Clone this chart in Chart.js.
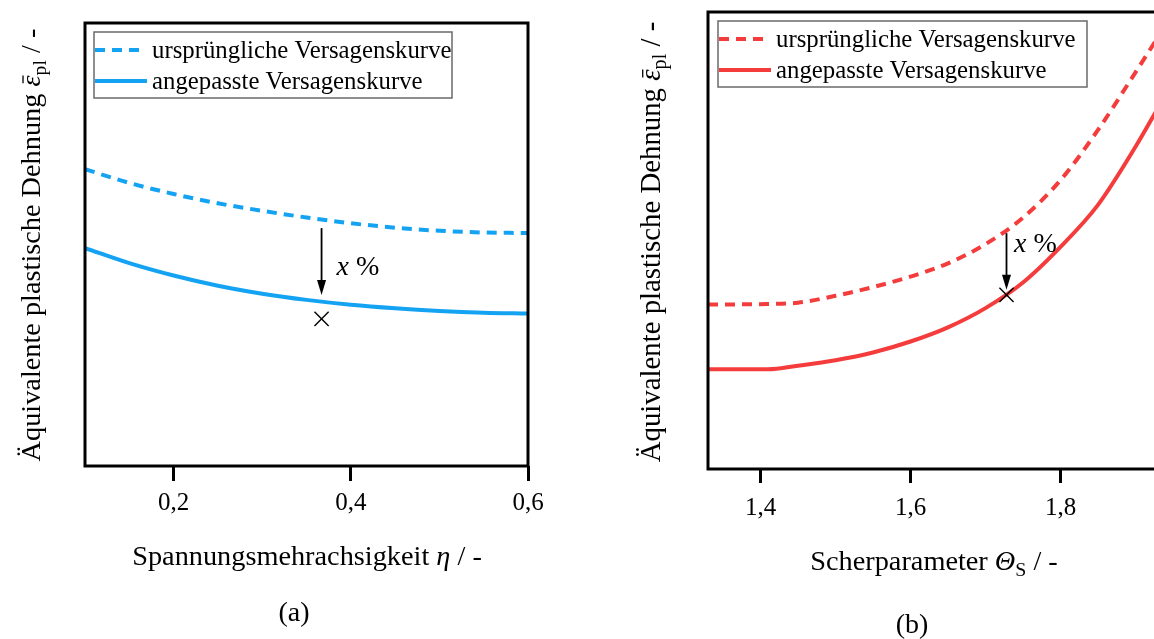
<!DOCTYPE html>
<html>
<head>
<meta charset="utf-8">
<script src="https://cdn.jsdelivr.net/npm/chart.js@4"></script>
<style>
html, body { margin: 0; padding: 0; background: #fff; overflow: hidden; }
#wrap { position: relative; width: 1154px; height: 639px; overflow: hidden; }
#cA { position: absolute; left: 0; top: 0; }
#cB { position: absolute; left: 577px; top: 0; }
</style>
</head>
<body>
<div id="wrap">
	<canvas id="cA" width="577" height="639"></canvas>
	<canvas id="cB" width="650" height="639"></canvas>
</div>
<script>
// (a) Spannungsmehrachsigkeit
const etaX        = [0.10, 0.15, 0.20, 0.25, 0.30, 0.35, 0.40, 0.45, 0.50, 0.55, 0.60];
const etaOriginal = [0.670, 0.639, 0.614, 0.593, 0.576, 0.561, 0.548, 0.538, 0.531, 0.527, 0.526];
const etaAdjusted = [0.492, 0.458, 0.430, 0.407, 0.389, 0.375, 0.364, 0.356, 0.350, 0.346, 0.344];
const etaTicks    = [0.2, 0.4, 0.6];
const etaArrow    = [0.367, 0.537, 0.386];   // x, von, bis
const etaCross    = [0.367, 0.332];
const etaNote     = [0.384, 0.431];

// (b) Scherparameter
const thetaX        = [1.33, 1.41, 1.45, 1.50, 1.55, 1.60, 1.65, 1.70, 1.75, 1.80, 1.85, 1.90, 1.93];
const thetaOriginal = [0.360, 0.361, 0.364, 0.379, 0.398, 0.421, 0.450, 0.492, 0.550, 0.632, 0.742, 0.868, 0.945];
const thetaAdjusted = [0.218, 0.218, 0.226, 0.238, 0.255, 0.279, 0.310, 0.352, 0.408, 0.486, 0.578, 0.705, 0.790];
const thetaTicks    = [1.4, 1.6, 1.8];
const thetaArrow    = [1.728, 0.516, 0.392];
const thetaCross    = [1.728, 0.381];
const thetaNote     = [1.738, 0.475];

const legendLabels = ['ursprüngliche Versagenskurve', 'angepasste Versagenskurve'];

const BLUE = '#14a3f3';
const RED = '#f53c3c';
const FONT = '"Liberation Serif", "Times New Roman", serif';

function fontOf(p, size)
{
	return (p.it ? 'italic ' : '') + (p.sub ? size * 0.7 : size).toFixed(1) + 'px ' + FONT;
}

function richWidth(ctx, parts, size)
{
	let w = 0;
	parts.forEach(p => { ctx.font = fontOf(p, size); w += ctx.measureText(p.t).width; });
	return w;
}

// text mit kursiv / tiefgestellt / querstrich
function drawRich(ctx, parts, x, y, size, align)
{
	let cx = align === 'left' ? x : x - richWidth(ctx, parts, size) / 2;
	ctx.textAlign = 'left';
	ctx.textBaseline = 'alphabetic';
	ctx.fillStyle = '#000';
	parts.forEach(p => {
		ctx.font = fontOf(p, size);
		const w = ctx.measureText(p.t).width;
		ctx.fillText(p.t, cx, y + (p.sub ? size * 0.2 : 0));
		if (p.bar) {
			ctx.beginPath();
			ctx.strokeStyle = '#000';
			ctx.lineWidth = 1.3;
			ctx.moveTo(cx + w * 0.3, y - size * 0.6);
			ctx.lineTo(cx + w * 1.0, y - size * 0.6);
			ctx.stroke();
		}
		cx += w;
	});
}

const deco = {
	id: 'deco',
	afterDatasetsDraw(chart, args, o)
	{
		const ctx = chart.ctx;
		const ca = chart.chartArea;
		const sx = chart.scales.x, sy = chart.scales.y;
		ctx.save();

		// rahmen
		ctx.setLineDash([]);
		ctx.strokeStyle = '#000';
		ctx.lineWidth = 3;
		ctx.strokeRect(ca.left, ca.top, ca.right - ca.left, ca.bottom - ca.top);

		// pfeil
		const ax = sx.getPixelForValue(o.arrow[0]);
		const a1 = sy.getPixelForValue(o.arrow[1]);
		const a2 = sy.getPixelForValue(o.arrow[2]);
		ctx.lineWidth = 1.8;
		ctx.beginPath();
		ctx.moveTo(ax, a1);
		ctx.lineTo(ax, a2 - 10);
		ctx.stroke();
		ctx.fillStyle = '#000';
		ctx.beginPath();
		ctx.moveTo(ax, a2);
		ctx.lineTo(ax - 4.5, a2 - 15);
		ctx.lineTo(ax + 4.5, a2 - 15);
		ctx.closePath();
		ctx.fill();

		drawRich(ctx, [{ t: 'x', it: true }, { t: ' %' }],
			sx.getPixelForValue(o.note[0]), sy.getPixelForValue(o.note[1]), 28, 'left');

		// legende
		const lx = ca.left + o.legendDx, ly = ca.top + 9;
		ctx.strokeStyle = '#6a6a6a';
		ctx.lineWidth = 1.5;
		ctx.strokeRect(lx, ly, o.legendW, 66);
		chart.data.datasets.filter(d => d.inLegend).forEach((ds, i) => {
			const yy = ly + 18 + i * 31;
			ctx.beginPath();
			ctx.setLineDash(ds.borderDash || []);
			ctx.strokeStyle = ds.borderColor;
			ctx.lineWidth = ds.borderWidth;
			ctx.moveTo(lx + 1, yy);
			ctx.lineTo(lx + (ds.borderDash ? 45 : 53), yy);
			ctx.stroke();
			ctx.setLineDash([]);
			drawRich(ctx, [{ t: ds.label }], lx + 58, ly + 26 + i * 30.5, 24.8, 'left');
		});

		// achsentitel
		drawRich(ctx, o.xTitle, o.xTitlePos[0], o.xTitlePos[1], 28.3);
		drawRich(ctx, [{ t: o.tag }], o.tagPos[0], o.tagPos[1], 28);
		ctx.translate(o.yTitlePos[0], o.yTitlePos[1]);
		ctx.rotate(-Math.PI / 2);
		drawRich(ctx, o.yTitle, 0, 0, o.yTitleSize);

		ctx.restore();
	}
};

const yTitle = [
	{ t: 'Äquivalente plastische Dehnung ' },
	{ t: 'ε', it: true, bar: true },
	{ t: 'pl', sub: true },
	{ t: ' / -' }
];

const fmt = v => Number(v).toFixed(1).replace('.', ',');

function makeChart(id, c)
{
	return new Chart(document.getElementById(id), {
		type: 'line',
		data: {
			datasets: [
				{
					type: 'scatter',
					data: [{ x: c.cross[0], y: c.cross[1] }],
					pointStyle: 'crossRot',
					pointRadius: 10,
					borderColor: '#000',
					backgroundColor: '#000',
					borderWidth: 1.4
				},
				{
					label: legendLabels[0],
					inLegend: true,
					data: c.xs.map((x, i) => ({ x: x, y: c.orig[i] })),
					borderColor: c.color,
					borderWidth: 4,
					borderDash: [10, 7],
					pointRadius: 0,
					cubicInterpolationMode: 'monotone'
				},
				{
					label: legendLabels[1],
					inLegend: true,
					data: c.xs.map((x, i) => ({ x: x, y: c.adj[i] })),
					borderColor: c.color,
					borderWidth: 4,
					pointRadius: 0,
					cubicInterpolationMode: 'monotone'
				}
			]
		},
		options: {
			responsive: false,
			animation: false,
			layout: { padding: { top: c.top, right: c.right, left: 0, bottom: 0 } },
			plugins: {
				legend: { display: false },
				tooltip: { enabled: false },
				deco: c.deco
			},
			scales: {
				x: {
					type: 'linear',
					min: c.min,
					max: c.max,
					afterBuildTicks: s => { s.ticks = c.ticks.map(v => ({ value: v })); },
					afterFit: s => { s.height = c.xh; },
					grid: { drawOnChartArea: false, tickLength: c.tl, color: '#000', lineWidth: 3 },
					border: { display: false },
					ticks: {
						color: '#000',
						font: { family: FONT, size: 25 },
						padding: c.pad,
						maxRotation: 0,
						autoSkip: false,
						callback: v => fmt(v)
					}
				},
				y: {
					min: 0,
					max: 1,
					afterFit: s => { s.width = c.yw; },
					ticks: { display: false },
					grid: { display: false },
					border: { display: false }
				}
			}
		},
		plugins: [deco]
	});
}

makeChart('cA', {
	xs: etaX, orig: etaOriginal, adj: etaAdjusted, ticks: etaTicks, cross: etaCross,
	color: BLUE, min: 0.1, max: 0.6, top: 23, right: 49, xh: 173, yw: 85, tl: 15, pad: 7,
	deco: {
		arrow: etaArrow, note: etaNote, legendDx: 9, legendW: 358,
		xTitle: [{ t: 'Spannungsmehrachsigkeit ' }, { t: 'η', it: true }, { t: ' / -' }],
		xTitlePos: [307, 565],
		tag: '(a)', tagPos: [294, 621],
		yTitle: yTitle, yTitlePos: [40, 245], yTitleSize: 28.3
	}
});

makeChart('cB', {
	xs: thetaX, orig: thetaOriginal, adj: thetaAdjusted, ticks: thetaTicks, cross: thetaCross,
	color: RED, min: 1.33, max: 1.95, top: 12, right: 54, xh: 170, yw: 131, tl: 14, pad: 10,
	deco: {
		arrow: thetaArrow, note: thetaNote, legendDx: 10, legendW: 369,
		xTitle: [{ t: 'Scherparameter ' }, { t: 'Θ', it: true }, { t: 'S', sub: true }, { t: ' / -' }],
		xTitlePos: [934, 570].map((v, i) => i === 0 ? v - 577 : v),
		tag: '(b)', tagPos: [335, 633],
		yTitle: yTitle, yTitlePos: [83, 242], yTitleSize: 28.8
	}
});
</script>
</body>
</html>
